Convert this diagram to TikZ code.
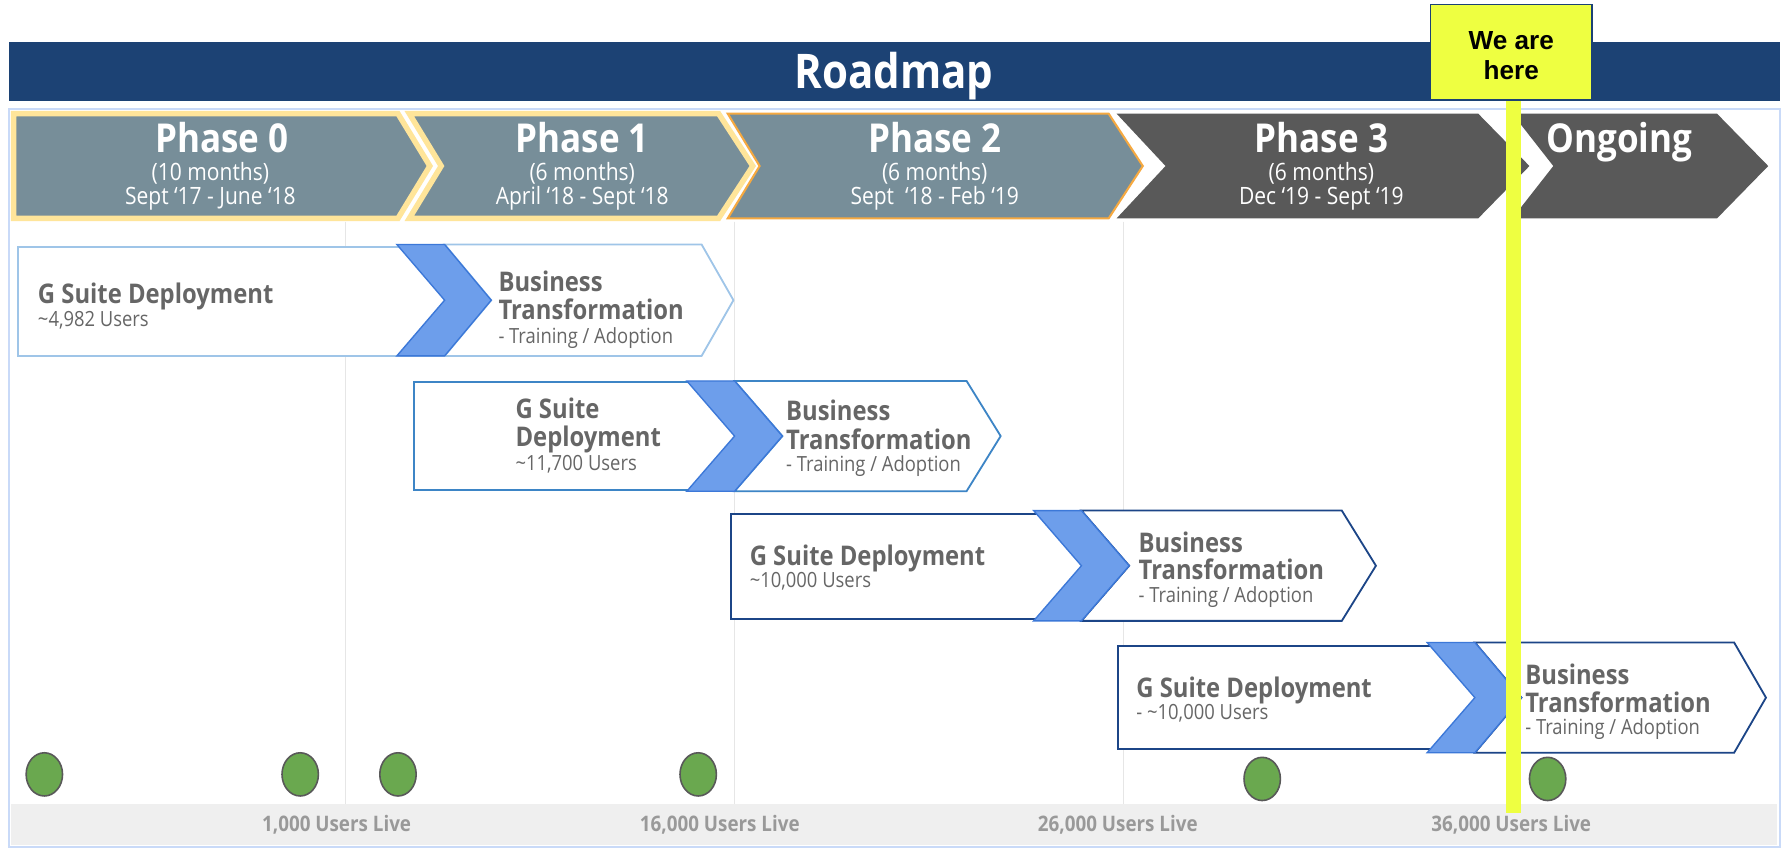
\documentclass[tikz,border=0pt]{standalone}
\usepackage{fontspec}
\usetikzlibrary{shapes.geometric}
\setmainfont{Open Sans}[FakeStretch=0.88]
\newfontfamily\arialfont{Liberation Sans}
\definecolor{navy}{HTML}{1C4274}
\definecolor{slate}{HTML}{778E99}
\definecolor{dgrey}{HTML}{595959}
\definecolor{ygold}{HTML}{FFE59A}
\definecolor{orng}{HTML}{F6A940}
\definecolor{lblue}{HTML}{9FC5E8}
\definecolor{mblue}{HTML}{3D85C6}
\definecolor{dblue}{HTML}{1C4587}
\definecolor{chev}{HTML}{6D9EEB}
\definecolor{chevb}{HTML}{3C78D8}
\definecolor{txtg}{HTML}{666666}
\definecolor{bandc}{HTML}{EFEFEF}
\definecolor{gridc}{HTML}{E6E6E6}
\definecolor{framec}{HTML}{C9DAF8}
\definecolor{dotg}{HTML}{6AA84F}
\definecolor{ylw}{HTML}{EEFF41}
\definecolor{livec}{HTML}{999999}
\begin{document}
\begin{tikzpicture}[x=0.5pt,y=-0.5pt,
  phasebg/.style={fill=slate},
  darkbg/.style={fill=dgrey},
  ttl/.style={text=white,font=\bfseries\fontsize{17.5}{19}\selectfont,inner sep=0,anchor=base},
  sub/.style={text=white,font=\fontsize{10.5}{12}\selectfont,inner sep=0,anchor=base},
  boxbold/.style={text=txtg,font=\bfseries\fontsize{11.9}{13}\selectfont,inner sep=0,anchor=base west},
  boxreg/.style={text=txtg,font=\fontsize{9.2}{10}\selectfont,inner sep=0,anchor=base west},
  chevshape/.style={fill=chev,draw=chevb,line width=0.6pt,line join=miter},
  wbox/.style={fill=white,line width=0.8pt,line join=miter},
  dot/.style={ellipse,fill=dotg,draw=black!65,line width=0.7pt,minimum width=16pt,minimum height=19pt,inner sep=0},
  livelbl/.style={text=livec,font=\bfseries\fontsize{9.4}{10}\selectfont,inner sep=0,anchor=base}
]
\useasboundingbox (0,0) rectangle (1568,748.4);
\fill[white] (0,0) rectangle (1568,748.4);

% frame, band, grid
\draw[framec,line width=0.8pt] (8,96) rectangle (1565,745);
\fill[bandc] (10,707) rectangle (1563,743);
\foreach \gx in {304,646,988,1330}
  \draw[gridc,line width=0.7pt] (\gx,195) -- (\gx,707);

% title bar
\fill[navy] (8,37) rectangle (1565,89);
\node[text=white,font=\bfseries\fontsize{21}{24}\selectfont,inner sep=0,anchor=base] (title) at (786,78) {Roadmap};

% phases
\path[phasebg,draw=ygold,line width=2.4pt,line join=miter] (12,100) -- (350,100) -- (378,146) -- (350,192) -- (12,192) -- cycle;
\path[phasebg,draw=ygold,line width=2.4pt,line join=miter] (360,100) -- (632,100) -- (662,146) -- (632,192) -- (360,192) -- (388,146) -- cycle;
\path[phasebg,draw=orng,line width=0.9pt,line join=miter] (640,100) -- (975,100) -- (1005,146) -- (975,192) -- (640,192) -- (668,146) -- cycle;
\path[darkbg] (982,100) -- (1300,100) -- (1345,146) -- (1300,192) -- (982,192) -- (1025,146) -- cycle;
\path[darkbg] (1330,100) -- (1510,100) -- (1555,146) -- (1510,192) -- (1330,192) -- (1366,146) -- cycle;

\node[ttl] (p0t) at (195,134) {Phase 0};
\node[sub] (p0m) at (185,159) {(10 months)};
\node[sub] (p0d) at (185,180) {Sept ‘17 - June ‘18};
\node[ttl] (p1t) at (512,134) {Phase 1};
\node[sub] (p1m) at (512,159) {(6 months)};
\node[sub] (p1d) at (512,180) {April ‘18 - Sept ‘18};
\node[ttl] (p2t) at (822,134) {Phase 2};
\node[sub] (p2m) at (822,159) {(6 months)};
\node[sub] (p2d) at (822,180) {Sept \ ‘18 - Feb ‘19};
\node[ttl] (p3t) at (1162,134) {Phase 3};
\node[sub] (p3m) at (1162,159) {(6 months)};
\node[sub] (p3d) at (1162,180) {Dec ‘19 - Sept ‘19};
\node[ttl] (pot) at (1424,134) {Ongoing};

% row 1
\draw[wbox,draw=lblue] (16,217) rectangle (391,313);
\draw[wbox,draw=lblue] (391,215) -- (617,215) -- (645,264) -- (617,313) -- (391,313) -- (432,264) -- cycle;
\draw[chevshape] (349,215) -- (391,215) -- (432,264) -- (391,313) -- (349,313) -- (391,264) -- cycle;
\node[boxbold] (r1a) at (33,267) {G Suite Deployment};
\node[boxreg] (r1b) at (33,287) {\char"7E 4,982 Users};
\node[boxbold] (r1c) at (438,256) {Business};
\node[boxbold] (r1d) at (438,281) {Transformation};
\node[boxreg] (r1e) at (438,302) {- Training / Adoption};

% row 2
\draw[wbox,draw=mblue] (364,336) rectangle (646,431);
\draw[wbox,draw=mblue] (646,335) -- (850,335) -- (880,383.5) -- (850,432) -- (646,432) -- (688,383.5) -- cycle;
\draw[chevshape] (604,335) -- (646,335) -- (688,383.5) -- (646,432) -- (604,432) -- (646,383.5) -- cycle;
\node[boxbold] (r2a) at (453,368) {G Suite};
\node[boxbold] (r2b) at (453,393) {Deployment};
\node[boxreg] (r2c) at (453,414) {\char"7E 11,700 Users};
\node[boxbold] (r2d) at (691,370) {Business};
\node[boxbold] (r2e) at (691,395) {Transformation};
\node[boxreg] (r2f) at (691,415) {- Training / Adoption};

% row 3
\draw[wbox,draw=dblue] (643,452) rectangle (951,544);
\draw[wbox,draw=dblue] (951,449) -- (1180,449) -- (1210,497.5) -- (1180,546) -- (951,546) -- (993,497.5) -- cycle;
\draw[chevshape] (909,449) -- (951,449) -- (993,497.5) -- (951,546) -- (909,546) -- (951,497.5) -- cycle;
\node[boxbold] (r3a) at (659,497) {G Suite Deployment};
\node[boxreg] (r3b) at (659,517) {\char"7E 10,000 Users};
\node[boxbold] (r3c) at (1001,486) {Business};
\node[boxbold] (r3d) at (1001,510) {Transformation};
\node[boxreg] (r3e) at (1001,530) {- Training / Adoption};

% row 4
\draw[wbox,draw=dblue] (983,568) rectangle (1297,659);
\draw[wbox,draw=dblue] (1297,565) -- (1525,565) -- (1553,613.5) -- (1525,662) -- (1297,662) -- (1338,613.5) -- cycle;
\draw[chevshape] (1255,565) -- (1297,565) -- (1338,613.5) -- (1297,662) -- (1255,662) -- (1297,613.5) -- cycle;
\node[boxbold] (r4a) at (999,613) {G Suite Deployment};
\node[boxreg] (r4b) at (999,633) {- \char"7E 10,000 Users};
\node[boxbold] (r4c) at (1341,602) {Business};
\node[boxbold] (r4d) at (1341,627) {Transformation};
\node[boxreg] (r4e) at (1341,646) {- Training / Adoption};

% dots
\node[dot] (d1) at (39,681) {};
\node[dot] (d2) at (264,681) {};
\node[dot] (d3) at (350,681) {};
\node[dot] (d4) at (614,681) {};
\node[dot] (d5) at (1110,685) {};
\node[dot] (d6) at (1361,685) {};

% bottom labels
\node[livelbl] (l1) at (296,731) {1,000 Users Live};
\node[livelbl] (l2) at (633,731) {16,000 Users Live};
\node[livelbl] (l3) at (983,731) {26,000 Users Live};
\node[livelbl] (l4) at (1329,731) {36,000 Users Live};

% we are here
\fill[ylw] (1324,89) rectangle (1338,715);
\draw[fill=ylw,draw=navy,line width=0.6pt] (1258,4) rectangle (1400,88);
\node[font=\arialfont\bfseries\fontsize{11.5}{13}\selectfont,inner sep=0,anchor=base] (w1) at (1329,43.5) {We are};
\node[font=\arialfont\bfseries\fontsize{11.5}{13}\selectfont,inner sep=0,anchor=base] (w2) at (1329,70) {here};
\end{tikzpicture}
\end{document}
